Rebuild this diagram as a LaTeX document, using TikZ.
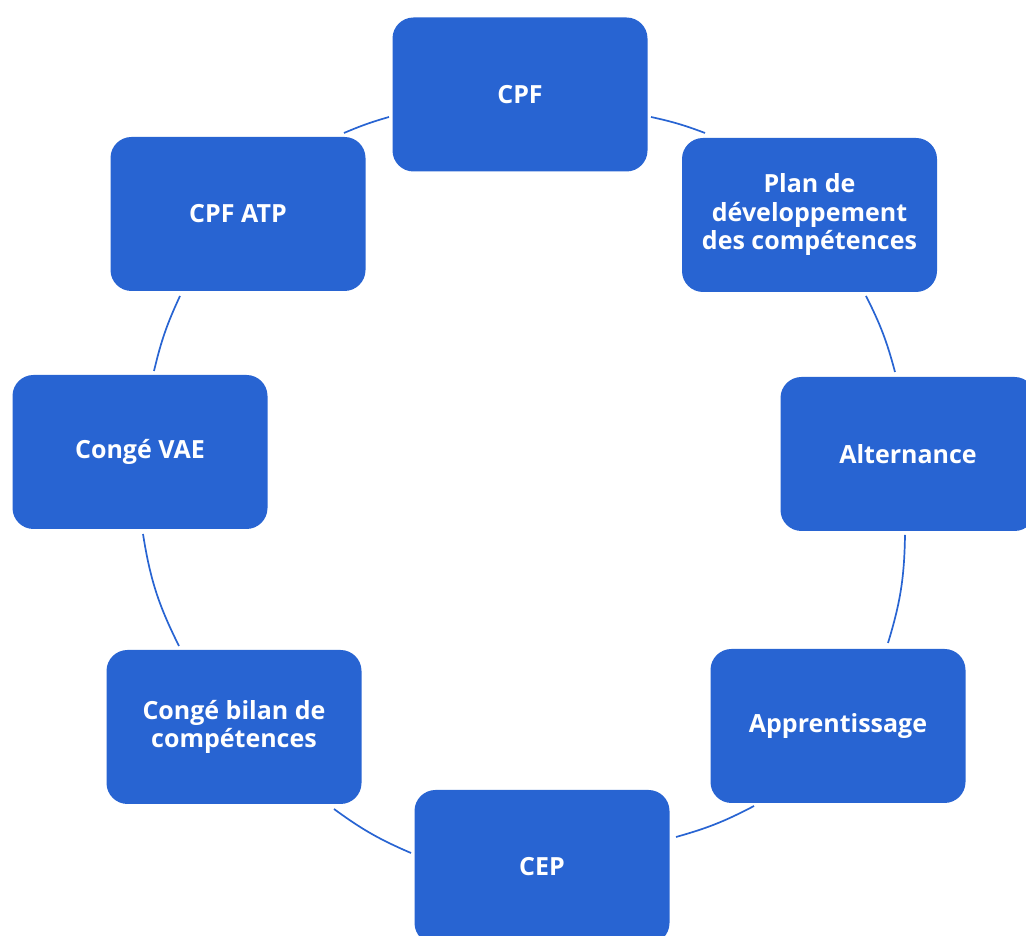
\documentclass[tikz,border=0pt]{standalone}
\usepackage{fontspec}
\setmainfont{Open Sans}
\definecolor{boxblue}{HTML}{2864D2}
\begin{document}
\begin{tikzpicture}[x=1pt,y=1pt,
  stagebox/.style={rectangle, rounded corners=21pt, minimum width=255pt,
    minimum height=154pt, fill=boxblue, text=white, align=center, inner sep=0pt,
    font=\fontsize{25}{28.5}\selectfont\bfseries},
  cycleline/.style={draw=boxblue, line width=1.7pt}]
\useasboundingbox (0,0) rectangle (1026,936);

% stages of the cycle, clockwise from the top
\node[stagebox] (cpf)   at (520,841.5) {CPF};
\node[stagebox] (plan)  at (809.5,721) {Plan de\\développement\\des compétences};
\node[stagebox] (alt)   at (908,482)   {Alternance};
\node[stagebox] (app)   at (838,210)   {Apprentissage};
\node[stagebox] (cep)   at (542,69)    {CEP};
\node[stagebox] (bilan) at (234,209)   {Congé bilan de\\compétences};
\node[stagebox] (vae)   at (140,484)   {Congé VAE};
\node[stagebox] (atp)   at (238,722)   {CPF ATP};

% end points of the arcs between neighbouring stages
\coordinate (a1) at (651,819); \coordinate (b1) at (705,803);
\coordinate (a2) at (866,640); \coordinate (b2) at (895,564);
\coordinate (a3) at (905,401); \coordinate (b3) at (888,293);
\coordinate (a4) at (754,130); \coordinate (b4) at (676,99);
\coordinate (a5) at (411,83);  \coordinate (b5) at (334,127);
\coordinate (a6) at (179,290); \coordinate (b6) at (143,402);
\coordinate (a7) at (154,565); \coordinate (b7) at (180,640);
\coordinate (a8) at (344,803); \coordinate (b8) at (389,819);

\draw[cycleline] (a1) to[bend left=4.2] (b1);
\draw[cycleline] (a2) to[bend left=6]   (b2);
\draw[cycleline] (a3) to[bend left=8]   (b3);
\draw[cycleline] (a4) to[bend left=6]   (b4);
\draw[cycleline] (a5) to[bend left=6.5] (b5);
\draw[cycleline] (a6) to[bend left=8.8] (b6);
\draw[cycleline] (a7) to[bend left=5.8] (b7);
\draw[cycleline] (a8) to[bend left=3.5] (b8);
\end{tikzpicture}
\end{document}
